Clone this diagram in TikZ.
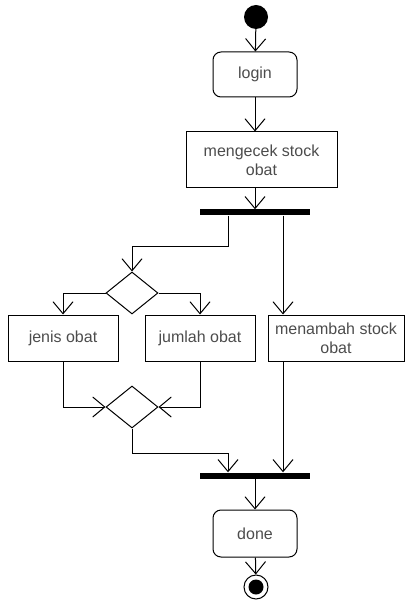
\documentclass[tikz,border=0pt]{standalone}
\usepackage{fontspec}
\setmainfont{Liberation Sans}
\usepackage{xcolor}
\usetikzlibrary{arrows.meta}
\usetikzlibrary{shapes}
\usetikzlibrary{calc}

\begin{document}
\begin{tikzpicture}[x=1pt,y=-1pt,
        flow/.style={draw=black,line width=1pt,-{Straight Barb[length=12pt,width=20pt,line width=1pt]}},
        act/.style={draw=black,line width=1pt,text=black!70,font=\fontsize{16}{19}\selectfont,align=center,inner sep=0pt},
        bar/.style={fill=black,inner sep=0pt,minimum width=110pt}]
        \useasboundingbox (0,0) rectangle (404,601);
        \begin{scope}[every node/.style={act}]
        \node (login) at (255,74.5) [rounded corners=8pt,minimum width=84pt,minimum height=45pt] {login};
        \node (check) at (261.5,160) [minimum width=151pt,minimum height=56pt] {mengecek stock\\obat};
        \node (jenis) at (63,338) [minimum width=110pt,minimum height=46pt] {jenis obat};
        \node (jumlah) at (200,338) [minimum width=110pt,minimum height=46pt] {jumlah obat};
        \node (tambah) at (336,338) [minimum width=136pt,minimum height=46pt] {menambah stock\\obat};
        \node (done) at (255,533.5) [rounded corners=8pt,minimum width=84pt,minimum height=47pt] {done};
        \end{scope}
        \begin{scope}[every node/.style={diamond,draw=black,line width=1pt,inner sep=0pt,minimum width=52pt,minimum height=42pt}]
        \node (dec1) at (132,293) {};
        \node (dec2) at (132,407) {};
        \end{scope}
        \node (start) at (256,17) [circle,fill=black,inner sep=0pt,minimum size=24pt] {};
        \node (bar1) at (255,212.5) [bar,minimum height=6pt] {};
        \node (bar2) at (255,475.5) [bar,minimum height=6pt] {};
        \node (end) at (256,587) [circle,draw=black,line width=1pt,inner sep=0pt,minimum size=24pt] {};
        \node (endin) at (end) [circle,fill=black,inner sep=0pt,minimum size=15pt] {};
        \coordinate (split) at (228,246);
        \coordinate (merge) at (228,453);
        \begin{scope}[every path/.style={flow}]
        \draw (start) -- (login);
        \draw (login) -- (check.north -| login);
        \draw (check.south -| login) -- (bar1);
        \draw ([xshift=-27pt]bar1.south) -- (split) -| (dec1.north);
        \draw ([xshift=28pt]bar1.south) -- ([xshift=28pt]bar1.south |- tambah.north);
        \draw (dec1.west) -| (jenis.north);
        \draw (dec1.east) -| (jumlah.north);
        \draw (jenis.south) |- (dec2.west);
        \draw (jumlah.south) |- (dec2.east);
        \draw (dec2.south) |- (merge) -- (merge |- bar2.north);
        \draw ([xshift=28pt]bar1.south |- tambah.south) -- ([xshift=28pt]bar1.south |- bar2.north);
        \draw (bar2) -- (done);
        \draw (done) -- (end);
        \end{scope}
\end{tikzpicture}
\end{document}
